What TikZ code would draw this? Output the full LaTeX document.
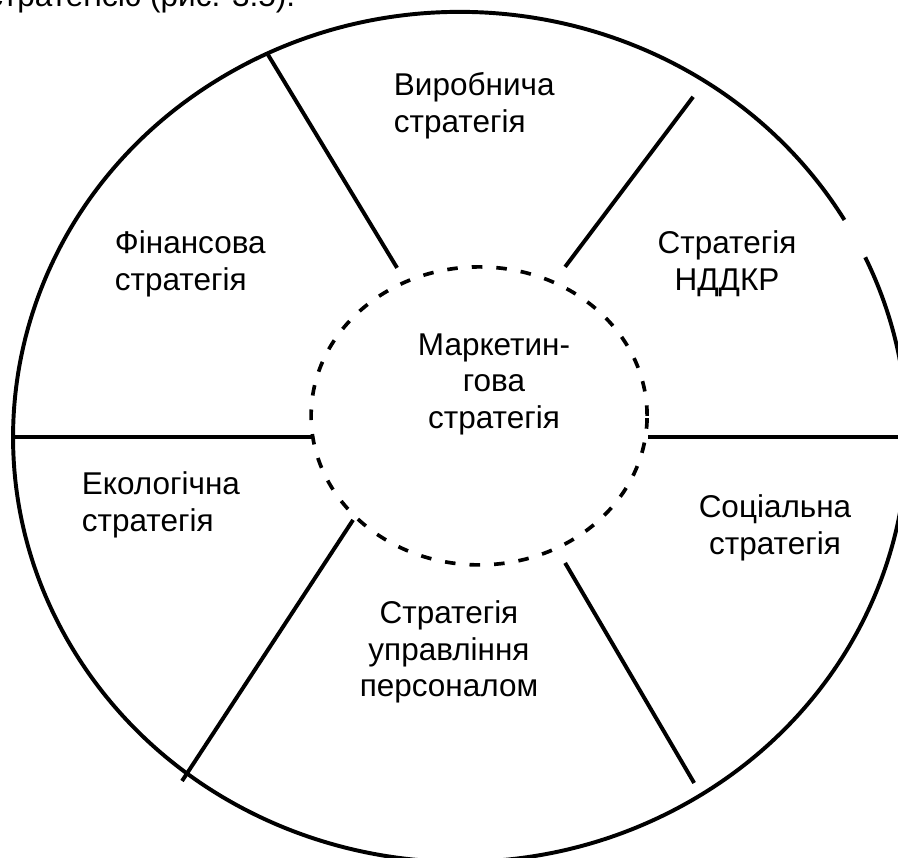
\documentclass[tikz,border=0pt]{standalone}
\usepackage{fontspec}
\setmainfont{Liberation Sans}

\begin{document}
\begin{tikzpicture}[scale=2.5, line width=2.8pt,
    every node/.style={font=\fontsize{22.4}{26}\selectfont, align=center, inner sep=0pt},
    core/.style={line width=2.6pt, dash pattern=on 7.5pt off 10pt}]
  % page
  \clip (0,0) rectangle (8.98,8.58);
  % centres
  \coordinate (O) at (4.60,4.21);
  \coordinate (C) at (4.79,4.42);
  % outer rim (small break on the right) and dashed core
  \draw (O) ++(30.7:4.47 and 4.25) arc[start angle=30.7, end angle=385, x radius=4.47, y radius=4.25];
  \draw[core] (C) ellipse[x radius=1.68, y radius=1.49];
  % spoke ends
  \coordinate (TLo) at (2.68,8.03);
  \coordinate (TLi) at (3.97,5.90);
  \coordinate (TRo) at (6.93,7.61);
  \coordinate (TRi) at (5.65,5.91);
  \coordinate (Lo) at (0.13,4.21);
  \coordinate (Li) at (3.12,4.21);
  \coordinate (Ro) at (8.98,4.21);
  \coordinate (Ri) at (6.48,4.21);
  \coordinate (BLo) at (1.82,0.77);
  \coordinate (BLi) at (3.53,3.38);
  \coordinate (BRo) at (6.94,0.75);
  \coordinate (BRi) at (5.65,2.95);
  % spokes
  \draw (TLo) -- (TLi);
  \draw (TRo) -- (TRi);
  \draw (Lo) -- (Li);
  \draw (Ri) -- (Ro);
  \draw (BLo) -- (BLi);
  \draw (BRo) -- (BRi);
  % sectors
  \node (vyrob) [anchor=west, align=left] at (3.92,7.52) {Виробнича\\стратегія};
  \node (nddkr) at (7.27,5.94) {Стратегія\\НДДКР};
  \node (finans) [anchor=west, align=left] at (1.13,5.94) {Фінансова\\стратегія};
  \node (market) at (4.94,4.74) {Маркетин-\\гова\\стратегія};
  \node (ekolog) [anchor=west, align=left] at (0.80,3.53) {Екологічна\\стратегія};
  \node (social) at (7.75,3.30) {Соціальна\\стратегія};
  \node (personal) at (4.49,2.06) {Стратегія\\управління\\персоналом};
  % cut-off line of the page text
  \node (caption) [anchor=base east] at (2.97,8.51) {стратегією (рис. 3.5).};
\end{tikzpicture}
\end{document}
